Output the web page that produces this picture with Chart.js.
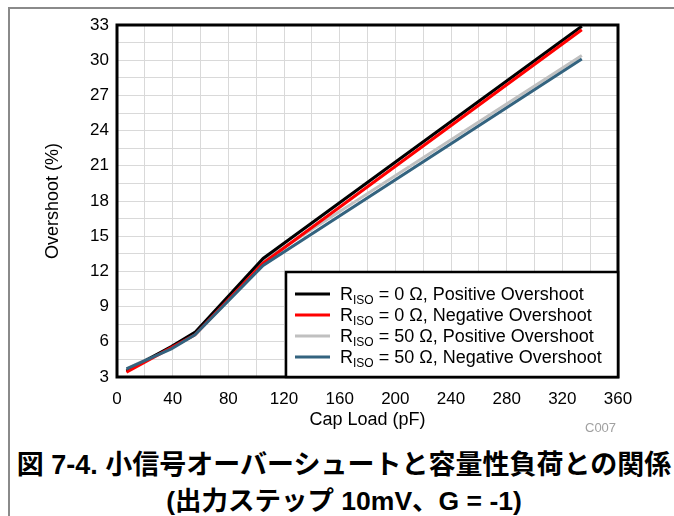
<!DOCTYPE html>
<html lang="ja">
<head>
    <meta charset="UTF-8">
    <title>Overshoot vs Cap Load</title>
    <script src="https://cdn.jsdelivr.net/npm/chart.js"></script>
    <style>
        body { margin: 0; background: #fff; width: 674px; height: 516px; position: relative; overflow: hidden; }
        #frameTop { position: absolute; left: 8px; top: 7px; width: 666px; height: 2px; background: #8a8a8a; }
        #frameLeft { position: absolute; left: 8px; top: 7px; width: 2px; height: 509px; background: #8a8a8a; }
        #chartBox { position: absolute; left: 0; top: 0; }
        .cap { position: absolute; left: 10px; width: 668px; text-align: center; font-family: 'Liberation Sans', 'Noto Sans CJK JP', sans-serif; font-weight: bold; color: #000; white-space: nowrap; }
        #cap1 { top: 443px; font-size: 27px; }
        #cap2 { top: 479px; font-size: 26.5px; }
        #code { position: absolute; left: 585px; top: 420px; font-family: 'Liberation Sans', sans-serif; font-size: 13px; color: #a0a0a0; }
    </style>
</head>
<body>
    <div id="frameTop"></div>
    <div id="frameLeft"></div>
    <div id="chartBox"><canvas id="osChart" width="674" height="440"></canvas></div>
    <div id="code">C007</div>
    <div class="cap" id="cap1">図 7-4. 小信号オーバーシュートと容量性負荷との関係</div>
    <div class="cap" id="cap2">(出力ステップ 10mV、G = -1)</div>
    <script>
        // cap load (pF) and overshoot (%)
        var capLoad = [6.8, 39, 56, 105, 334];
        var r0Pos = [3.5, 5.6, 6.8, 13.1, 32.9];
        var r0Neg = [3.4, 5.5, 6.6, 12.7, 32.6];
        var r50Pos = [3.7, 5.5, 6.8, 12.9, 30.4];
        var r50Neg = [3.7, 5.4, 6.6, 12.5, 30.1];

        var seriesNames = [
            { r: '0', kind: 'Positive' },
            { r: '0', kind: 'Negative' },
            { r: '50', kind: 'Positive' },
            { r: '50', kind: 'Negative' }
        ];
        var seriesColors = ['#000000', '#ff0000', '#c0c0c0', '#33637f'];
        var xTicks = [0, 40, 80, 120, 160, 200, 240, 280, 320, 360];
        var yTicks = [3, 6, 9, 12, 15, 18, 21, 24, 27, 30, 33];

        function pts(ys) {
            return capLoad.map(function(x, i) { return { x: x, y: ys[i] }; });
        }

        var allSeries = [r0Pos, r0Neg, r50Pos, r50Neg];
        var drawOrder = [2, 1, 3, 0];

        var datasets = allSeries.map(function(ys, i) {
            return {
                label: 'RISO = ' + seriesNames[i].r + ' Ω, ' + seriesNames[i].kind + ' Overshoot',
                data: pts(ys),
                borderColor: seriesColors[i],
                backgroundColor: seriesColors[i],
                borderWidth: 3,
                pointRadius: 0,
                tension: 0,
                order: drawOrder[i]
            };
        });

        // black frame round the plot + legend box with subscripts
        var framePlugin = {
            id: 'framePlugin',
            afterDatasetsDraw: function(chart) {
                var c = chart.ctx, a = chart.chartArea;
                c.save();
                c.strokeStyle = '#000';
                c.lineWidth = 3;
                c.strokeRect(a.left, a.top, a.right - a.left, a.bottom - a.top);
                c.restore();
            },
            afterDraw: function(chart) {
                var c = chart.ctx, a = chart.chartArea;
                var bx = 286, by = 272;
                c.save();
                c.fillStyle = '#fff';
                c.fillRect(bx, by, a.right - bx, a.bottom - by);
                c.strokeStyle = '#000';
                c.lineWidth = 2.5;
                c.strokeRect(bx, by, a.right - bx, a.bottom - by);
                var rows = [294, 315, 336, 357];
                chart.data.datasets.forEach(function(ds, i) {
                    var y = rows[i];
                    c.strokeStyle = ds.borderColor;
                    c.lineWidth = 3;
                    c.beginPath();
                    c.moveTo(295, y);
                    c.lineTo(330, y);
                    c.stroke();
                    c.fillStyle = '#000';
                    c.textBaseline = 'alphabetic';
                    c.font = '18px "Liberation Sans", Arial, sans-serif';
                    var x = 340;
                    c.fillText('R', x, y + 6);
                    x += c.measureText('R').width;
                    c.font = '12px "Liberation Sans", Arial, sans-serif';
                    c.fillText('ISO', x, y + 10);
                    x += c.measureText('ISO').width;
                    c.font = '18px "Liberation Sans", Arial, sans-serif';
                    c.fillText(' = ' + seriesNames[i].r + ' Ω, ' + seriesNames[i].kind + ' Overshoot', x, y + 6);
                });
                c.restore();
            }
        };

        var ctx = document.getElementById('osChart').getContext('2d');
        var osChart = new Chart(ctx, {
            type: 'line',
            data: { datasets: datasets },
            plugins: [framePlugin],
            options: {
                responsive: false,
                animation: false,
                devicePixelRatio: 1,
                layout: { padding: { left: 0, right: 56, top: 25, bottom: 3 } },
                plugins: { legend: { display: false }, tooltip: { enabled: false } },
                scales: {
                    x: {
                        type: 'linear',
                        min: 0,
                        max: 360,
                        afterFit: function(s) { s.height = 60; },
                        afterBuildTicks: function(s) {
                            var t = [];
                            for (var v = 0; v <= 360; v += 20) t.push({ value: v });
                            s.ticks = t;
                        },
                        ticks: {
                            autoSkip: false,
                            maxRotation: 0,
                            padding: 12,
                            color: '#000',
                            font: { family: 'Liberation Sans', size: 17 },
                            callback: function(v) { return xTicks.indexOf(v) >= 0 ? String(v) : ''; }
                        },
                        grid: { color: '#d9d9d9', lineWidth: 1, drawTicks: false },
                        border: { display: false },
                        title: {
                            display: true,
                            text: 'Cap Load (pF)',
                            color: '#000',
                            font: { family: 'Liberation Sans', size: 18 },
                            padding: { top: 0, bottom: 6 }
                        }
                    },
                    y: {
                        min: 3,
                        max: 33,
                        afterFit: function(s) { s.width = 117; },
                        afterBuildTicks: function(s) {
                            var t = [];
                            for (var k = 0; k <= 20; k++) t.push({ value: 3 + k * 1.5 });
                            s.ticks = t;
                        },
                        ticks: {
                            autoSkip: false,
                            padding: 8,
                            color: '#000',
                            font: { family: 'Liberation Sans', size: 17 },
                            callback: function(v) { return yTicks.indexOf(v) >= 0 ? String(v) : ''; }
                        },
                        grid: { color: '#d9d9d9', lineWidth: 1, drawTicks: false },
                        border: { display: false },
                        title: {
                            display: true,
                            text: 'Overshoot (%)',
                            color: '#000',
                            font: { family: 'Liberation Sans', size: 18 },
                            padding: { top: 42, bottom: 0 }
                        }
                    }
                }
            }
        });
    </script>
</body>
</html>
